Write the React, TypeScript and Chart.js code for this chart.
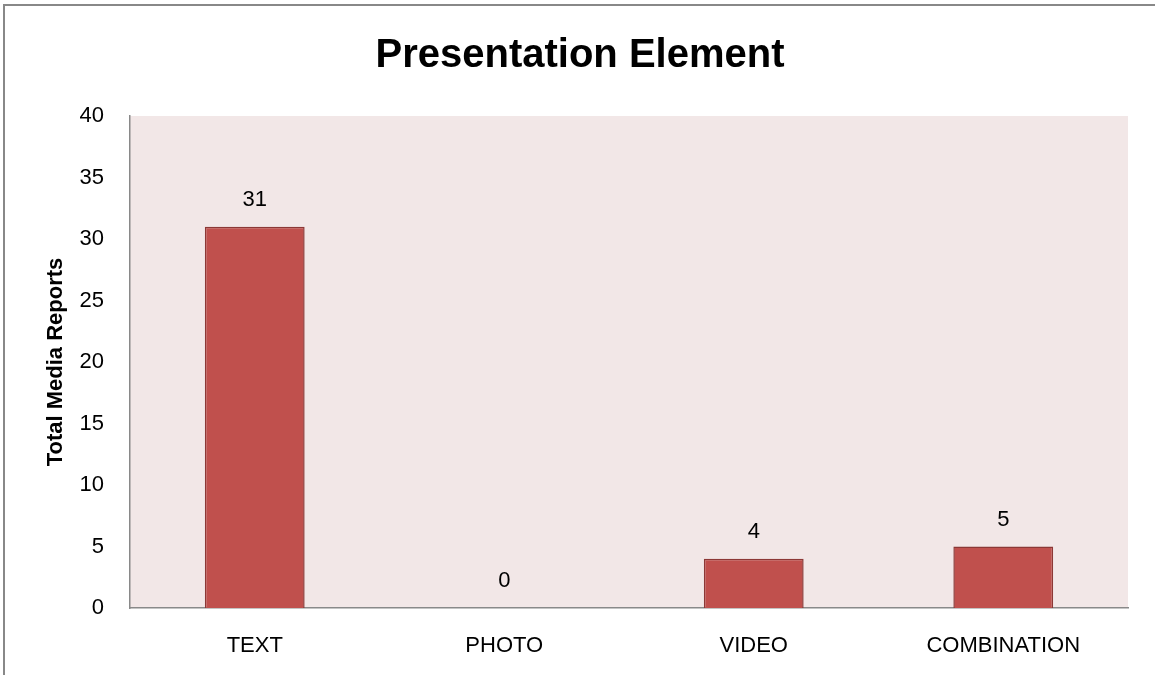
import React, { useEffect, useRef } from "react";
import { Chart, registerables } from "chart.js";

Chart.register(...registerables);

const categories: string[] = ["TEXT", "PHOTO", "VIDEO", "COMBINATION"];
const reports: number[] = [31, 0, 4, 5];
const chartTitle = "Presentation Element";
const yAxisTitle = "Total Media Reports";

const FONT = "'Liberation Sans', Arial, sans-serif";

const decorPlugin = {
  id: "decor",
  beforeDraw(chart: any) {
    const { ctx, chartArea } = chart;
    ctx.save();
    ctx.fillStyle = "#F2E7E7";
    ctx.fillRect(chartArea.left, chartArea.top, chartArea.right - chartArea.left, chartArea.bottom - chartArea.top);
    ctx.restore();
  },
  afterDraw(chart: any) {
    const { ctx, chartArea } = chart;
    ctx.save();
    ctx.fillStyle = "#000";
    ctx.font = `bold 40px ${FONT}`;
    ctx.textAlign = "center";
    ctx.textBaseline = "middle";
    ctx.fillText(chartTitle, 580, 56);
    ctx.save();
    ctx.translate(56, (chartArea.top + chartArea.bottom) / 2);
    ctx.rotate(-Math.PI / 2);
    ctx.font = `bold 22px ${FONT}`;
    ctx.fillText(yAxisTitle, 0, 0);
    ctx.restore();
    const meta = chart.getDatasetMeta(0);
    ctx.font = `22px ${FONT}`;
    ctx.textBaseline = "middle";
    meta.data.forEach((bar: any, i: number) => {
      ctx.fillText(String(reports[i]), bar.x, bar.y - 27);
    });
    ctx.restore();
  },
};

export default function App() {
  const ref = useRef<HTMLCanvasElement>(null);
  useEffect(() => {
    document.body.style.margin = "0";
    const chart = new Chart(ref.current!, {
      type: "bar",
      data: {
        labels: categories,
        datasets: [
          {
            data: reports,
            backgroundColor: "#C0504D",
            borderColor: "#8C3836",
            borderWidth: 1.5,
            barPercentage: 0.4,
            categoryPercentage: 1,
          },
        ],
      },
      options: {
        animation: false,
        responsive: false,
        maintainAspectRatio: false,
        layout: { padding: { left: 0, right: 27, top: 116, bottom: 0 } },
        plugins: { legend: { display: false }, tooltip: { enabled: false }, title: { display: false } },
        scales: {
          x: {
            grid: { display: false, drawTicks: false },
            border: { display: true, color: "#898989", width: 1.5 },
            ticks: { color: "#000", font: { family: FONT, size: 22 }, padding: 25 },
            afterFit: (s: any) => { s.height = 67; },
          },
          y: {
            min: 0,
            max: 40,
            grid: { display: false, drawTicks: false },
            border: { display: true, color: "#898989", width: 1.5 },
            ticks: { stepSize: 5, color: "#000", font: { family: FONT, size: 22 }, padding: 26 },
            afterFit: (s: any) => { s.width = 130; },
          },
        },
      },
      plugins: [decorPlugin],
    });
    return () => chart.destroy();
  }, []);
  return (
    <div style={{ position: "relative", width: 1155, height: 675, overflow: "hidden" }}>
      <canvas ref={ref} width={1155} height={675} style={{ position: "absolute", left: 0, top: 0 }} />
      <div style={{ position: "absolute", left: 3, top: 4, width: 1150, height: 670, borderLeft: "2px solid #888", borderTop: "2px solid #888", pointerEvents: "none" }} />
    </div>
  );
}
